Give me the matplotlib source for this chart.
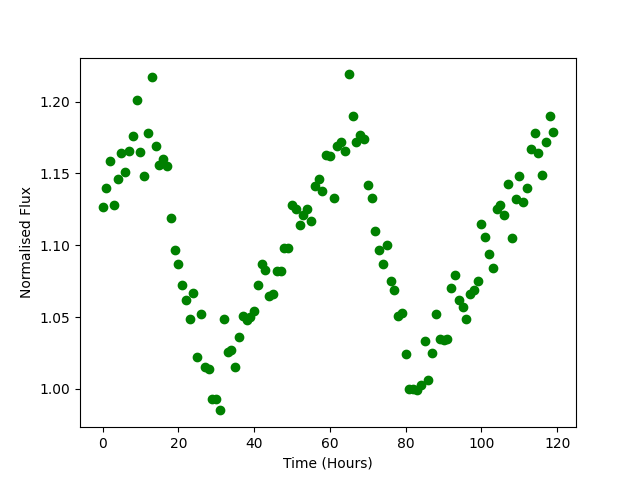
import matplotlib
matplotlib.use('Agg')
import matplotlib.pyplot as plt

# hourly samples
hours = list(range(120))
flux = [
    1.127, 1.140, 1.159, 1.128, 1.146, 1.164, 1.151, 1.166, 1.176, 1.201,
    1.165, 1.148, 1.178, 1.217, 1.169, 1.156, 1.160, 1.155, 1.119, 1.097,
    1.087, 1.072, 1.062, 1.049, 1.067, 1.022, 1.052, 1.015, 1.014, 0.993,
    0.993, 0.985, 1.049, 1.026, 1.027, 1.015, 1.036, 1.051, 1.048, 1.050,
    1.054, 1.072, 1.087, 1.083, 1.065, 1.066, 1.082, 1.082, 1.098, 1.098,
    1.128, 1.125, 1.114, 1.121, 1.125, 1.117, 1.141, 1.146, 1.138, 1.163,
    1.162, 1.133, 1.169, 1.172, 1.166, 1.219, 1.190, 1.172, 1.177, 1.174,
    1.142, 1.133, 1.110, 1.097, 1.087, 1.100, 1.075, 1.069, 1.051, 1.053,
    1.024, 1.000, 1.000, 0.999, 1.003, 1.033, 1.006, 1.025, 1.052, 1.035,
    1.034, 1.035, 1.070, 1.079, 1.062, 1.057, 1.049, 1.066, 1.069, 1.075,
    1.115, 1.106, 1.094, 1.084, 1.125, 1.128, 1.121, 1.143, 1.105, 1.132,
    1.148, 1.130, 1.140, 1.167, 1.178, 1.164, 1.149, 1.172, 1.190, 1.179,
]

fig = plt.figure(figsize=(6.4, 4.8), dpi=100)
plt.plot(hours, flux, 'go')
plt.xlabel('Time (Hours)')
plt.ylabel('Normalised Flux')
plt.savefig('out.png')
